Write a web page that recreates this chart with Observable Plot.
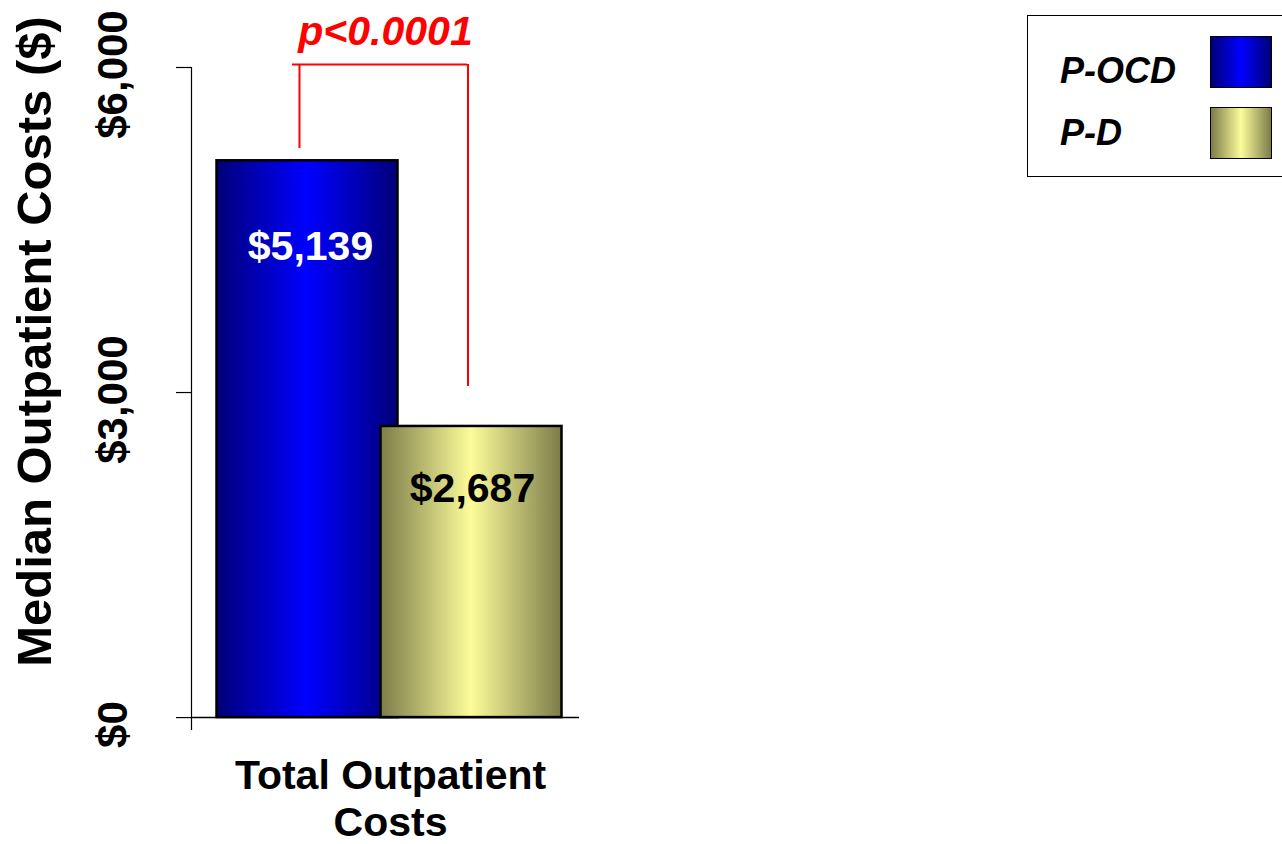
<!DOCTYPE html>
<html>
<head>
<meta charset="utf-8">
<script src="https://cdn.jsdelivr.net/npm/d3@7"></script>
<script src="https://cdn.jsdelivr.net/npm/@observablehq/plot@0.6"></script>
<style>
html, body { margin: 0; padding: 0; background: #fff; }
#wrap { position: relative; width: 1282px; height: 844px; overflow: hidden; font-family: "Liberation Sans", Arial, sans-serif; }
#wrap svg { position: absolute; left: 0; top: 0; }
.legend { position: absolute; left: 1027px; top: 15px; width: 280px; height: 162px; border: 1.5px solid #000; box-sizing: border-box; background: #fff; }
.legend .lab { position: absolute; left: 32px; font-size: 36px; font-weight: bold; font-style: italic; color: #000; line-height: 1; }
.legend .sw { position: absolute; left: 182px; width: 62px; height: 52px; border: 1.5px solid #000; box-sizing: border-box; }
</style>
</head>
<body>
<div id="wrap"></div>
<script>
// ---- data ----
const groups = ["P-OCD", "P-D"];
const costs = [5139, 2687];
const valueLabels = ["$5,139", "$2,687"];
const yTicks = [0, 3000, 6000];
const yTickLabels = ["$0", "$3,000", "$6,000"];
const yTitle = "Median Outpatient Costs ($)";
const xCategory = "Total Outpatient\nCosts";
const pValueText = "p<0.0001";
const bracketTop = 6028;
const bracketEnds = [5252, 3055];
const gradients = [
  {id: "gBlue", edge: "#000078", mid: "#0000ff"},
  {id: "gYellow", edge: "#7c7c4a", mid: "#fcfc9a"}
];

const data = groups.map((g, i) => ({group: g, cost: costs[i], label: valueLabels[i]}));
const ticks = yTicks.map((v, i) => ({v, label: yTickLabels[i]}));
const legs = groups.map((g, i) => ({group: g, end: bracketEnds[i]}));

const FONT = "Liberation Sans, Arial, sans-serif";

const defs = () => {
  const d = d3.create("svg:defs");
  for (const g of gradients) {
    const lg = d.append("linearGradient").attr("id", g.id).attr("x1", "0").attr("x2", "1").attr("y1", "0").attr("y2", "0");
    lg.append("stop").attr("offset", "0%").attr("stop-color", g.edge);
    lg.append("stop").attr("offset", "50%").attr("stop-color", g.mid);
    lg.append("stop").attr("offset", "100%").attr("stop-color", g.edge);
  }
  return d.node();
};

const chart = Plot.plot({
  width: 1282,
  height: 844,
  marginLeft: 191,
  marginRight: 703,
  marginTop: 67,
  marginBottom: 115,
  style: {fontFamily: FONT, background: "transparent"},
  x: {domain: groups, range: [224, 553], padding: 0, axis: null},
  y: {domain: [-110, 6000], axis: null},
  marks: [
    defs,
    Plot.frame({anchor: "left", stroke: "#000", strokeWidth: 1.2}),
    Plot.axisY(yTicks, {tickSize: 15, tickFormat: () => "", label: null, stroke: "#000", strokeWidth: 1.2}),
    Plot.ruleY([0], {stroke: "#000", strokeWidth: 1.5}),
    Plot.barY(data.filter(d => d.group === "P-OCD"), {x: "group", y: "cost", fill: "url(#gBlue)", stroke: "#000", strokeWidth: 2.5, insetLeft: -8.5, insetRight: -8.5}),
    Plot.barY(data.filter(d => d.group === "P-D"), {x: "group", y: "cost", fill: "url(#gYellow)", stroke: "#000", strokeWidth: 2.5, insetLeft: -8.5, insetRight: -8.5}),
    Plot.text(data.filter(d => d.group === "P-OCD"), {x: "group", y: "cost", text: "label", fill: "#fff", fontSize: 41, fontWeight: "bold", dx: 3, dy: 86}),
    Plot.text(data.filter(d => d.group === "P-D"), {x: "group", y: "cost", text: "label", fill: "#000", fontSize: 41, fontWeight: "bold", dx: 1, dy: 62}),
    // significance bracket
    Plot.ruleY([bracketTop], {x1: () => groups[0], x2: () => groups[1], stroke: "#ff0000", strokeWidth: 2, insetLeft: 67, insetRight: 86}),
    Plot.ruleX(legs.slice(0, 1), {x: "group", y1: "end", y2: () => bracketTop, stroke: "#ff0000", strokeWidth: 2, dx: -8}),
    Plot.ruleX(legs.slice(1), {x: "group", y1: "end", y2: () => bracketTop, stroke: "#ff0000", strokeWidth: 2, dx: -3.5}),
    Plot.text([pValueText], {y: bracketTop, text: d => d, fill: "#ff0000", fontSize: 41, fontWeight: "bold", fontStyle: "italic", lineAnchor: "bottom", dy: -19}),
    Plot.text(ticks, {y: "v", text: "label", frameAnchor: "left", rotate: -90, textAnchor: "middle", fontSize: 42, fontWeight: "bold", fill: "#000", dx: -78, dy: 7}),
    Plot.text([yTitle], {text: d => d, frameAnchor: "left", rotate: -90, textAnchor: "middle", fontSize: 49, fontWeight: "bold", fill: "#000", dx: -156, dy: -57}),
    Plot.text([xCategory], {text: d => d, frameAnchor: "bottom", textAnchor: "middle", lineAnchor: "top", lineHeight: 1.15, fontSize: 41, fontWeight: "bold", fill: "#000", dx: 5, dy: 26})
  ]
});

const wrap = document.getElementById("wrap");
wrap.appendChild(chart);

// legend
const legend = document.createElement("div");
legend.className = "legend";
const swatchTops = [20, 91];
const labelTops = [37, 99];
groups.forEach((g, i) => {
  const lab = document.createElement("div");
  lab.className = "lab";
  lab.textContent = g;
  lab.style.top = labelTops[i] + "px";
  legend.appendChild(lab);
  const sw = document.createElement("div");
  sw.className = "sw";
  sw.style.top = swatchTops[i] + "px";
  sw.style.background = `linear-gradient(to right, ${gradients[i].edge}, ${gradients[i].mid}, ${gradients[i].edge})`;
  legend.appendChild(sw);
});
wrap.appendChild(legend);
</script>
</body>
</html>
